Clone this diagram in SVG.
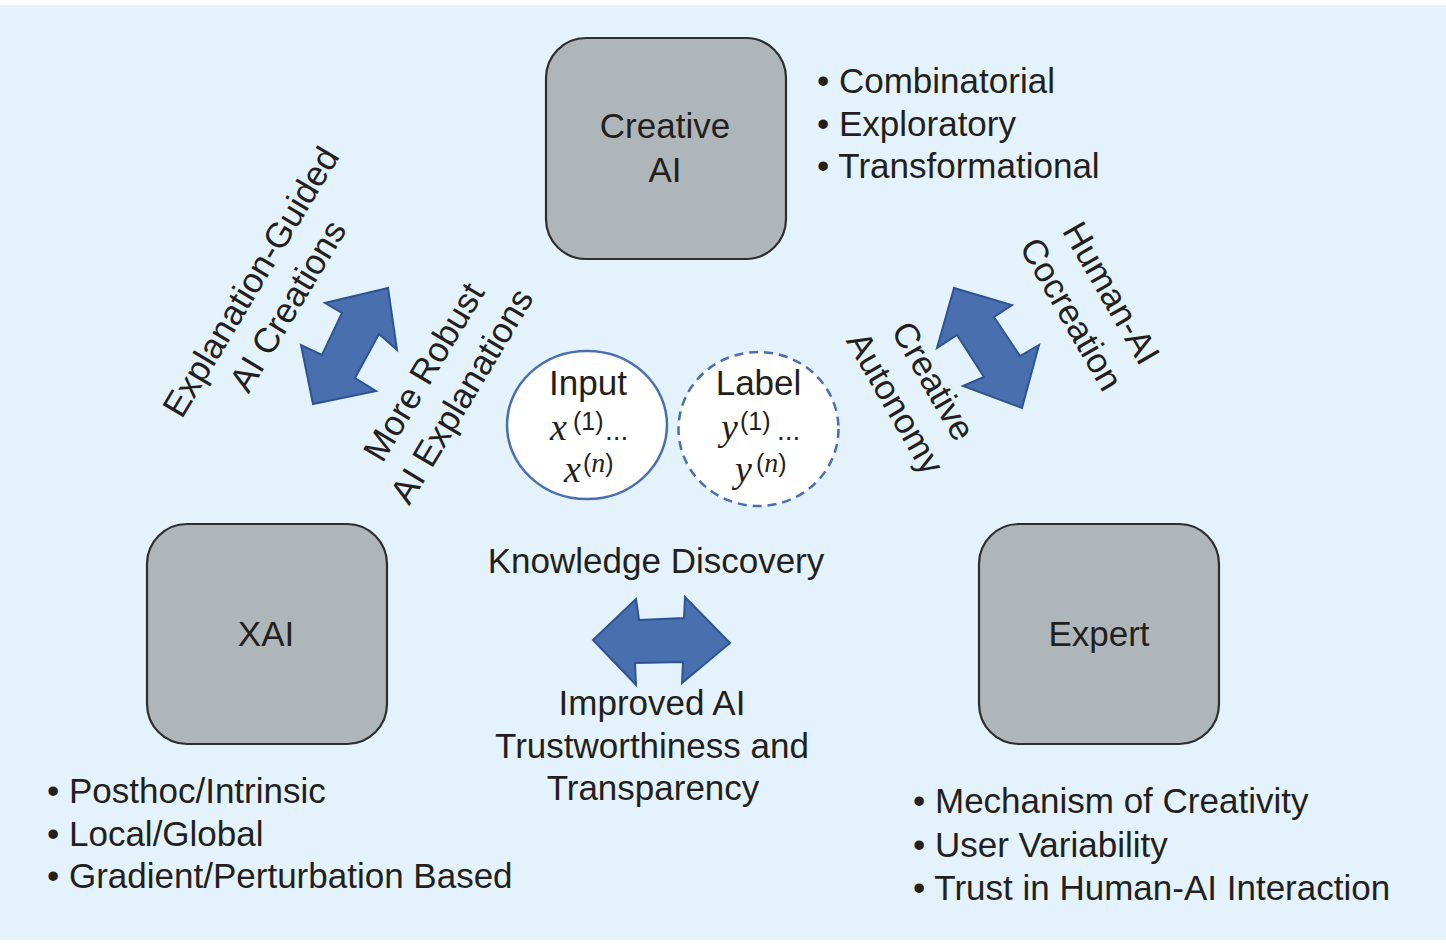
<svg xmlns="http://www.w3.org/2000/svg" width="1446" height="944" viewBox="0 0 1446 944">
<style>
text{font-family:"Liberation Sans",Arial,Helvetica,sans-serif;font-size:35px;fill:#231f20}
.c{text-anchor:middle}
.box{fill:#aeb6b9;stroke:#2e2e2e;stroke-width:2.2}
.arr{fill:#4a6fae;stroke:#2c5395;stroke-width:2;stroke-linejoin:miter}
.circ{fill:#ffffff;stroke:#4a6fb0;stroke-width:2.5}
.dash{stroke-dasharray:9 6}
.m{font-family:"Liberation Serif","Times New Roman",serif;font-style:italic;font-size:38px}
.sup{font-size:25px}
.mi{font-family:"Liberation Serif","Times New Roman",serif;font-style:italic;font-size:28px}
.dots{font-size:28px}
</style>
<rect x="0" y="5" width="1446" height="935" fill="#e4f3fb"/>

<g id="connectors">
<polygon class="arr" points="388,288 397,350 379,334 355,378 376,391 313,404 301,345 322,355 342,313 325,303"/>
<polygon class="arr" points="954,288 1012,305 994,317 1020,356 1039,345 1022,408 963,386 984,377 957,335 937,348"/>
<polygon class="arr" points="593,640 636,599 639,620 684,618 685,597 730,643 682,683 683,662 635,663 636,685"/>
</g>

<g id="node-creative-ai">
<rect class="box" x="546" y="38" width="240" height="221" rx="40" ry="40"/>
<text class="c" x="665" y="138">Creative</text>
<text class="c" x="665" y="182">AI</text>
</g>
<g id="creative-ai-list">
<text x="817" y="93">• Combinatorial</text>
<text x="817" y="136">• Exploratory</text>
<text x="817" y="178">• Transformational</text>
</g>

<g id="node-xai">
<rect class="box" x="147" y="524" width="240" height="220" rx="40" ry="40"/>
<text class="c" x="266" y="646">XAI</text>
</g>
<g id="xai-list">
<text x="47" y="803">• Posthoc/Intrinsic</text>
<text x="47" y="846">• Local/Global</text>
<text x="47" y="888">• Gradient/Perturbation Based</text>
</g>

<g id="node-expert">
<rect class="box" x="979" y="524" width="240" height="220" rx="40" ry="40"/>
<text class="c" x="1099" y="646">Expert</text>
</g>
<g id="expert-list">
<text x="913" y="813">• Mechanism of Creativity</text>
<text x="913" y="857">• User Variability</text>
<text x="913" y="900">• Trust in Human-AI Interaction</text>
</g>

<g id="node-input">
<ellipse class="circ" cx="587" cy="425" rx="80" ry="74"/>
<text class="c" x="588" y="395">Input</text>
<text class="m" x="550" y="440">x</text>
<text class="sup" x="573" y="430">(1)</text>
<text class="dots" x="605" y="440">...</text>
<text class="m" x="564" y="482">x</text>
<text class="sup" x="583" y="472">(<tspan class="mi">n</tspan>)</text>
</g>

<g id="node-label">
<ellipse class="circ dash" cx="758.5" cy="429" rx="80" ry="77"/>
<text class="c" x="758.5" y="395">Label</text>
<text class="m" x="721" y="440">y</text>
<text class="sup" x="740" y="430">(1)</text>
<text class="dots" x="777" y="440">...</text>
<text class="m" x="735" y="482">y</text>
<text class="sup" x="756" y="472">(<tspan class="mi">n</tspan>)</text>
</g>

<g id="edge-labels">
<text class="c" transform="translate(261,288) rotate(-59)">Explanation-Guided</text>
<text class="c" transform="translate(298,312) rotate(-59)">AI Creations</text>
<text class="c" transform="translate(434,378) rotate(-59)">More Robust</text>
<text class="c" transform="translate(472,402) rotate(-59)">AI Explanations</text>
<text class="c" transform="translate(1101,299) rotate(60)">Human-AI</text>
<text class="c" transform="translate(1061,320) rotate(60)">Cocreation</text>
<text class="c" transform="translate(923,387) rotate(60)">Creative</text>
<text class="c" transform="translate(885,409) rotate(60)">Autonomy</text>
<text class="c" x="656" y="573">Knowledge Discovery</text>
<text class="c" x="652" y="715">Improved AI</text>
<text class="c" x="652" y="758">Trustworthiness and</text>
<text class="c" x="653" y="800">Transparency</text>
</g>
</svg>
